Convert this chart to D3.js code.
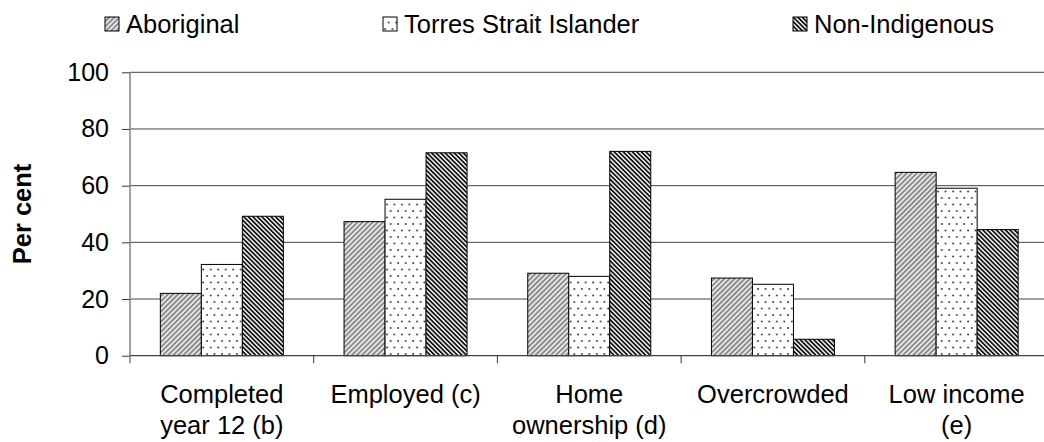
<!DOCTYPE html>
<html>
<head>
<meta charset="utf-8">
<script src="https://cdn.jsdelivr.net/npm/d3@7"></script>
<style>
  body { margin: 0; background: #fff; }
  svg { display: block; }
  text { font-family: "Liberation Sans", Arial, sans-serif; fill: #000; }
</style>
</head>
<body>
<svg id="chart" width="1044" height="442"></svg>
<script>
// Indicator categories (line breaks mark two-line axis labels)
const categories = ["Completed\nyear 12 (b)", "Employed (c)", "Home\nownership (d)", "Overcrowded", "Low income\n(e)"];
const seriesNames = ["Aboriginal", "Torres Strait Islander", "Non-Indigenous"];

// Per cent of each population
const aboriginal    = [22.0, 47.3, 29.1, 27.4, 64.7];
const torresStrait  = [32.2, 55.2, 28.0, 25.2, 59.1];
const nonIndigenous = [49.2, 71.6, 72.1, 5.8, 44.5];

const yTicks = [0, 20, 40, 60, 80, 100];

const seriesValues = [aboriginal, torresStrait, nonIndigenous];
const patternIds = ["pat-abor", "pat-tsi", "pat-nonind"];

const svg = d3.select("#chart");
const defs = svg.append("defs");

// Grey forward-slash hatching
const pA = defs.append("pattern").attr("id", "pat-abor")
  .attr("patternUnits", "userSpaceOnUse").attr("width", 3.6).attr("height", 3.6)
  .attr("patternTransform", "rotate(45)");
pA.append("rect").attr("width", 3.6).attr("height", 3.6).attr("fill", "#e6e6e6");
pA.append("rect").attr("width", 1.8).attr("height", 3.6).attr("fill", "#8a8a8a");

// Sparse dots
const pT = defs.append("pattern").attr("id", "pat-tsi")
  .attr("patternUnits", "userSpaceOnUse").attr("width", 7.5).attr("height", 13);
pT.append("rect").attr("width", 7.5).attr("height", 13).attr("fill", "#fff");
pT.append("circle").attr("cx", 2).attr("cy", 3).attr("r", 0.95).attr("fill", "#333");
pT.append("circle").attr("cx", 5.75).attr("cy", 9.5).attr("r", 0.95).attr("fill", "#333");

// Dark back-slash hatching
const pN = defs.append("pattern").attr("id", "pat-nonind")
  .attr("patternUnits", "userSpaceOnUse").attr("width", 3.2).attr("height", 3.2)
  .attr("patternTransform", "rotate(-45)");
pN.append("rect").attr("width", 3.2).attr("height", 3.2).attr("fill", "#f2f2f2");
pN.append("rect").attr("width", 1.7).attr("height", 3.2).attr("fill", "#111");

// Scales
const plotLeft = 130, plotRight = 1048.5;
const y = d3.scaleLinear().domain([0, 100]).range([355.7, 72.3]);
const x0 = d3.scaleBand().domain(categories).range([plotLeft, plotRight]).padding(0);
const x1 = d3.scaleBand().domain(seriesNames).range([0, x0.bandwidth()]).paddingInner(0).paddingOuter(0.74);

// Gridlines
svg.append("g").selectAll("line")
  .data(yTicks.filter(d => d > 0))
  .join("line")
  .attr("x1", plotLeft).attr("x2", plotRight)
  .attr("y1", d => y(d)).attr("y2", d => y(d))
  .attr("stroke", "#444").attr("stroke-width", 1);

// Bars
const groups = svg.append("g").selectAll("g")
  .data(categories)
  .join("g")
  .attr("transform", d => `translate(${x0(d)},0)`);

groups.selectAll("rect")
  .data((d, i) => seriesNames.map((s, k) => ({ s, k, v: seriesValues[k][i] })))
  .join("rect")
  .attr("x", d => x1(d.s))
  .attr("width", x1.bandwidth())
  .attr("y", d => y(d.v))
  .attr("height", d => y(0) - y(d.v))
  .attr("fill", d => `url(#${patternIds[d.k]})`)
  .attr("stroke", "#000").attr("stroke-width", 1);

// Y axis
const yAxis = d3.axisLeft(y).tickValues(yTicks).tickSize(8).tickPadding(13);
const gy = svg.append("g").attr("transform", `translate(${plotLeft},0)`).call(yAxis);
gy.select(".domain").remove();
gy.selectAll(".tick line").attr("stroke", "#333");
gy.selectAll(".tick text").attr("font-size", 25).attr("font-family", "Liberation Sans, Arial, sans-serif").attr("fill", "#000");
gy.append("line").attr("x1", 0).attr("x2", 0).attr("y1", y(100)).attr("y2", y(0) + 7.5)
  .attr("stroke", "#808080").attr("stroke-width", 1.5);

// X axis baseline and separators between categories
svg.append("line").attr("x1", plotLeft).attr("x2", plotRight)
  .attr("y1", y(0)).attr("y2", y(0)).attr("stroke", "#444").attr("stroke-width", 1.2);
svg.append("g").selectAll("line")
  .data(categories.slice(1))
  .join("line")
  .attr("x1", d => x0(d)).attr("x2", d => x0(d))
  .attr("y1", y(0)).attr("y2", y(0) + 7.5)
  .attr("stroke", "#333").attr("stroke-width", 1);

// Category labels
const catLabels = svg.append("g").selectAll("text")
  .data(categories)
  .join("text")
  .attr("text-anchor", "middle")
  .attr("font-size", 25.5)
  .attr("x", d => x0(d) + x0.bandwidth() / 2)
  .attr("y", 403);
catLabels.selectAll("tspan")
  .data(d => d.split("\n"))
  .join("tspan")
  .attr("x", function () { return d3.select(this.parentNode).attr("x"); })
  .attr("dy", (d, i) => i === 0 ? 0 : 31)
  .text(d => d);

// Y axis title
svg.append("text")
  .attr("transform", "translate(31,214) rotate(-90)")
  .attr("text-anchor", "middle")
  .attr("font-size", 25.5)
  .attr("font-weight", "bold")
  .text("Per cent");

// Legend
const legendX = [105, 383, 793];
const legend = svg.append("g").selectAll("g")
  .data(seriesNames)
  .join("g")
  .attr("transform", (d, i) => `translate(${legendX[i]},0)`);
legend.append("rect")
  .attr("x", 0).attr("y", 17).attr("width", 14).attr("height", 14)
  .attr("fill", (d, i) => `url(#${patternIds[i]})`)
  .attr("stroke", "#000").attr("stroke-width", 1);
legend.append("text")
  .attr("x", 21).attr("y", 33)
  .attr("font-size", 25.5)
  .text(d => d);
</script>
</body>
</html>
